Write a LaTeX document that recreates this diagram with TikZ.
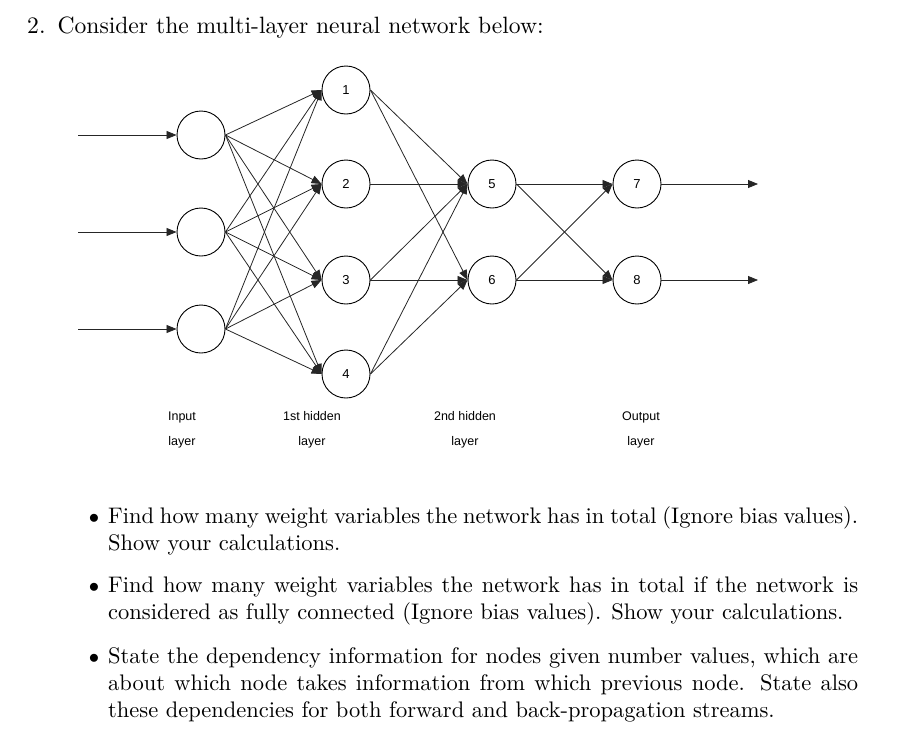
\documentclass[tikz,border=0pt]{standalone}
\usepackage{fontspec}
\newfontfamily\diagfont{Liberation Sans}
\newfontfamily\qfont{lmroman10-regular}[Extension=.otf]
\usetikzlibrary{arrows.meta}

\begin{document}
\begin{tikzpicture}[x=1pt, y=-1pt,
 neuron/.style={shape=circle, draw, line width=0.9pt, minimum size=48pt, inner sep=0pt, font=\diagfont\fontsize{13}{13}\selectfont},
 wire/.style={line width=0.8pt, draw=black!85, -{Triangle[length=10pt,width=8pt]}},
 caption/.style={align=center, font=\diagfont\fontsize{12.5}{25}\selectfont},
 prose/.style={anchor=north west, text width=750pt, align=justify, inner sep=0pt, font=\qfont\fontsize{22.5}{27}\selectfont}
]
\useasboundingbox (0,0) rectangle (910,734);

\node (title) at (27,33) [anchor=base west, inner sep=0pt, font=\qfont\fontsize{23.6}{28}\selectfont] {2.\hspace{12pt}Consider the multi-layer neural network below:};

% input layer
\foreach \y [count=\i] in {135,232,329} {
 \node (i\i) at (201,\y) [neuron] {};
 \coordinate (s\i) at (78,\y);
 \draw[wire] (s\i) -- (i\i.west);
}
% 1st hidden layer
\foreach \y [count=\i] in {90,184,280,374} {
 \node (n\i) at (346,\y) [neuron] {\i};
}
% 2nd hidden layer and output layer
\node (n5) at (492,184) [neuron] {5};
\node (n6) at (492,280) [neuron] {6};
\node (n7) at (637,184) [neuron] {7};
\node (n8) at (637,280) [neuron] {8};

% connections
\foreach \a in {1,2,3} {
 \foreach \b in {1,...,4} {
  \draw[wire] (i\a.east) -- (n\b.west);
 }
}
\foreach \a/\b in {1/5, 1/6, 2/5, 3/5, 3/6, 4/5, 4/6, 5/7, 5/8, 6/7, 6/8} {
 \draw[wire] (n\a.east) -- (n\b.west);
}
% outputs
\foreach \i in {7,8} {
 \coordinate (t\i) at (758,0 |- n\i);
 \draw[wire] (n\i.east) -- (t\i);
}

% layer names
\node (cin) at (182,430) [caption] {Input\\layer};
\node (ch1) at (312,430) [caption] {1st hidden\\layer};
\node (ch2) at (465,430) [caption] {2nd hidden\\layer};
\node (cout) at (641,430) [caption] {Output\\layer};

% questions
\node (q1) at (108,504) [prose] {\llap{$\bullet$\hspace{9pt}}\strut Find how many weight variables the network has in total (Ignore bias values).\linebreak Show your calculations.};
\node (q2) at (108,573) [prose] {\llap{$\bullet$\hspace{9pt}}\strut Find how many weight variables the network has in total if the network is\linebreak considered as fully connected (Ignore bias values). Show your calculations.};
\node (q3) at (108,644) [prose] {\llap{$\bullet$\hspace{9pt}}\strut State the dependency information for nodes given number values, which are\linebreak about which node takes information from which previous node. State also\linebreak these dependencies for both forward and back-propagation streams.};

\end{tikzpicture}
\end{document}
